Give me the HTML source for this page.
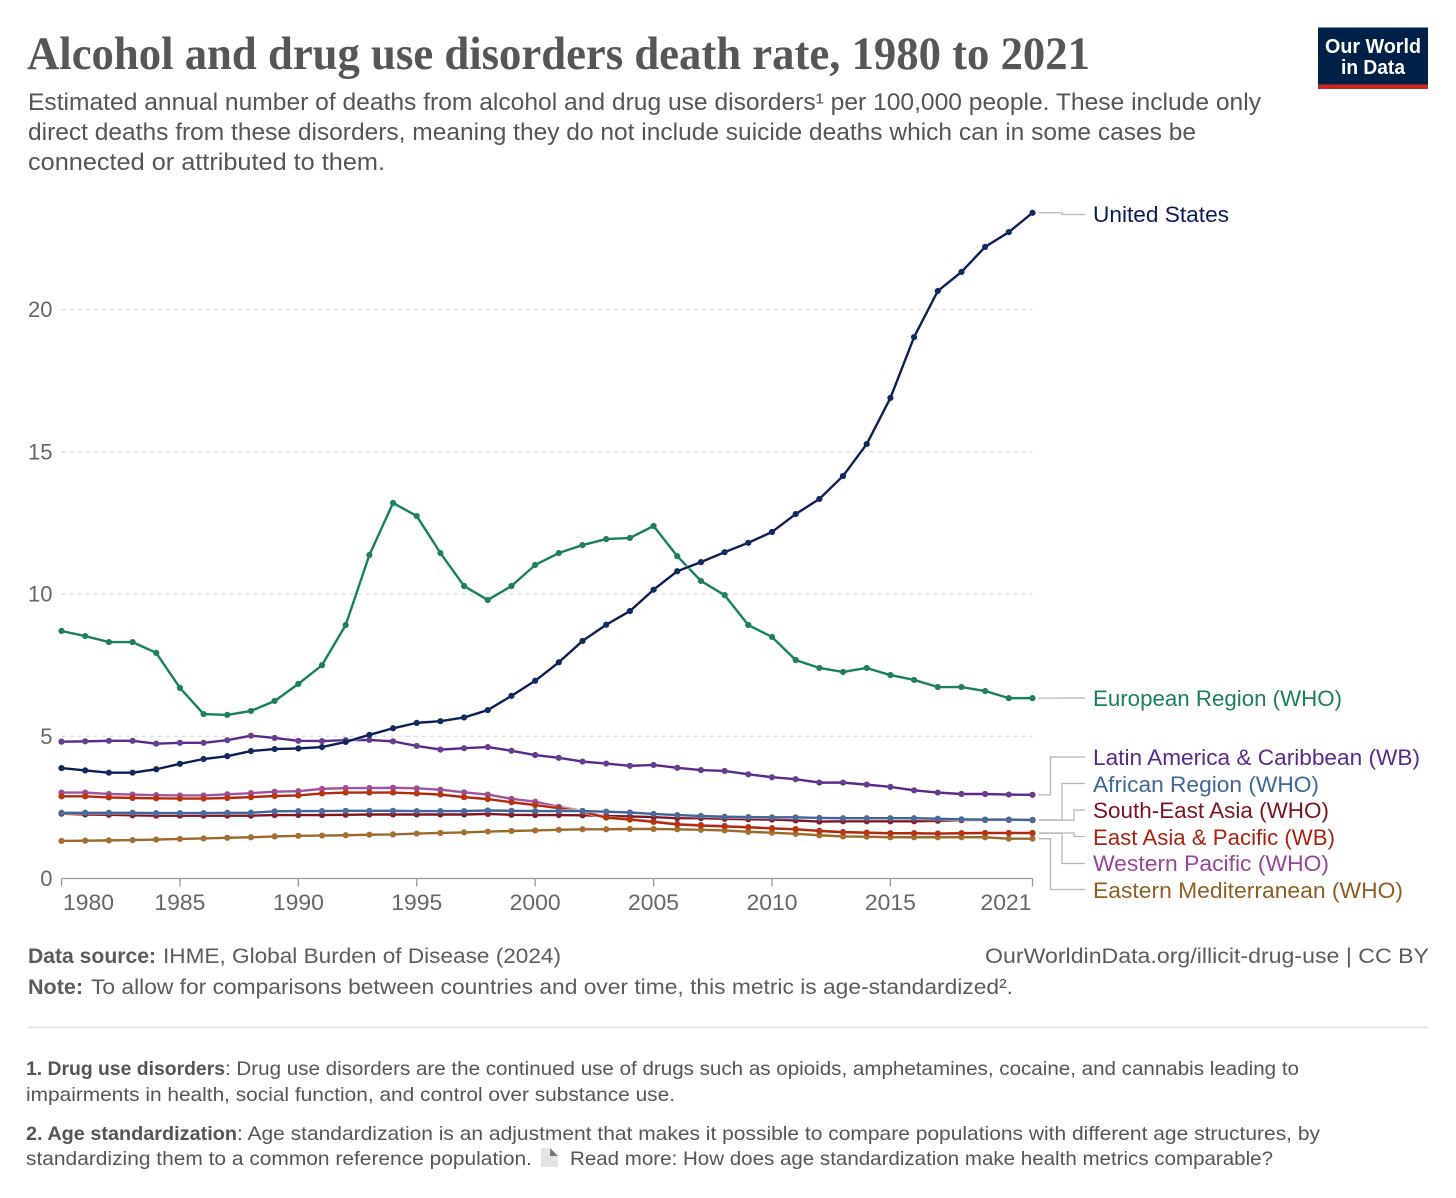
<!DOCTYPE html>
<html lang="en">
<head>
<meta charset="utf-8">
<title>Alcohol and drug use disorders death rate, 1980 to 2021</title>
<style>
html,body{margin:0;padding:0;background:#fff;}
svg{display:block;}
text{font-family:"Liberation Sans",sans-serif;}
.title{font-family:"Liberation Serif",serif;font-weight:700;font-size:47px;fill:#565656;}
.sub{font-size:24px;fill:#555;}
.foot{font-size:21.5px;fill:#5b5b5b;}
.b{font-weight:700;}
.note{font-size:19.5px;fill:#555;}
.tick{font-size:22px;fill:#666;}
.lab{font-size:22px;}
</style>
</head>
<body>
<svg id="chart" xmlns="http://www.w3.org/2000/svg" width="1456" height="1198" viewBox="0 0 1456 1198">
  <rect x="0" y="0" width="1456" height="1198" fill="#fff"/>
  <text class="title" x="27" y="69" textLength="1063" lengthAdjust="spacingAndGlyphs">Alcohol and drug use disorders death rate, 1980 to 2021</text>
  <text class="sub" x="28" y="110" textLength="1233" lengthAdjust="spacingAndGlyphs">Estimated annual number of deaths from alcohol and drug use disorders¹ per 100,000 people. These include only</text>
  <text class="sub" x="28" y="140" textLength="1168" lengthAdjust="spacingAndGlyphs">direct deaths from these disorders, meaning they do not include suicide deaths which can in some cases be</text>
  <text class="sub" x="28" y="170" textLength="357" lengthAdjust="spacingAndGlyphs">connected or attributed to them.</text>

  <g>
    <rect x="1318" y="27.5" width="110" height="61.5" fill="#002147"/>
    <rect x="1318" y="84.5" width="110" height="4.5" fill="#ce261e"/>
    <text x="1325" y="53" font-size="20" font-weight="700" fill="#fff" textLength="96" lengthAdjust="spacingAndGlyphs">Our World</text>
    <text x="1341" y="74" font-size="20" font-weight="700" fill="#fff" textLength="64" lengthAdjust="spacingAndGlyphs">in Data</text>
  </g>

  <g id="grid"></g>
  <g id="axes"></g>
  <g id="connectors"></g>
  <g id="series"></g>

  <g>
    <text class="lab" x="1093" y="222" fill="#0b1a53" textLength="136" lengthAdjust="spacingAndGlyphs">United States</text>
    <text class="lab" x="1093" y="706" fill="#18805f" textLength="249" lengthAdjust="spacingAndGlyphs">European Region (WHO)</text>
    <text class="lab" x="1093" y="765" fill="#5b2a86" textLength="327" lengthAdjust="spacingAndGlyphs">Latin America &amp; Caribbean (WB)</text>
    <text class="lab" x="1093" y="792" fill="#3f6699" textLength="226" lengthAdjust="spacingAndGlyphs">African Region (WHO)</text>
    <text class="lab" x="1093" y="818" fill="#7a1420" textLength="236" lengthAdjust="spacingAndGlyphs">South-East Asia (WHO)</text>
    <text class="lab" x="1093" y="845" fill="#a82410" textLength="242" lengthAdjust="spacingAndGlyphs">East Asia &amp; Pacific (WB)</text>
    <text class="lab" x="1093" y="871" fill="#95459b" textLength="236" lengthAdjust="spacingAndGlyphs">Western Pacific (WHO)</text>
    <text class="lab" x="1093" y="898" fill="#8f5e22" textLength="310" lengthAdjust="spacingAndGlyphs">Eastern Mediterranean (WHO)</text>
  </g>

  <g>
    <text class="foot b" x="28" y="963" textLength="128" lengthAdjust="spacingAndGlyphs">Data source:</text>
    <text class="foot" x="163" y="963" textLength="398" lengthAdjust="spacingAndGlyphs">IHME, Global Burden of Disease (2024)</text>
    <text class="foot" x="985" y="963" textLength="444" lengthAdjust="spacingAndGlyphs">OurWorldinData.org/illicit-drug-use | CC BY</text>
    <text class="foot b" x="28" y="994" textLength="55" lengthAdjust="spacingAndGlyphs">Note:</text>
    <text class="foot" x="91" y="994" textLength="922" lengthAdjust="spacingAndGlyphs">To allow for comparisons between countries and over time, this metric is age-standardized².</text>
    <line x1="27" y1="1027.5" x2="1429" y2="1027.5" stroke="#e2e2e2" stroke-width="1.5"/>
    <text class="note b" x="26" y="1075" textLength="199" lengthAdjust="spacingAndGlyphs">1. Drug use disorders</text>
    <text class="note" x="225" y="1075" textLength="1074" lengthAdjust="spacingAndGlyphs">: Drug use disorders are the continued use of drugs such as opioids, amphetamines, cocaine, and cannabis leading to</text>
    <text class="note" x="26" y="1101" textLength="649" lengthAdjust="spacingAndGlyphs">impairments in health, social function, and control over substance use.</text>
    <text class="note b" x="26" y="1140" textLength="211" lengthAdjust="spacingAndGlyphs">2. Age standardization</text>
    <text class="note" x="237" y="1140" textLength="1083" lengthAdjust="spacingAndGlyphs">: Age standardization is an adjustment that makes it possible to compare populations with different age structures, by</text>
    <text class="note" x="26" y="1165" textLength="506" lengthAdjust="spacingAndGlyphs">standardizing them to a common reference population.</text>
    <g>
      <path d="M541 1148 H550 L558 1156 V1167 H541 Z" fill="#e4e4e4"/>
      <path d="M550 1148 L558 1156 H550 Z" fill="#777"/>
    </g>
    <text class="note" x="570" y="1165" textLength="703" lengthAdjust="spacingAndGlyphs">Read more: How does age standardization make health metrics comparable?</text>
  </g>
</svg>
<script>
const years = [1980,1981,1982,1983,1984,1985,1986,1987,1988,1989,1990,1991,1992,1993,1994,1995,1996,1997,1998,1999,2000,2001,2002,2003,2004,2005,2006,2007,2008,2009,2010,2011,2012,2013,2014,2015,2016,2017,2018,2019,2020,2021];
const yTicks = [0,5,10,15,20];
const xTicks = [1980,1985,1990,1995,2000,2005,2010,2015,2021];

const unitedStates = [3.88,3.8,3.72,3.72,3.84,4.03,4.2,4.3,4.48,4.55,4.57,4.62,4.8,5.05,5.28,5.47,5.53,5.66,5.92,6.42,6.95,7.6,8.35,8.92,9.4,10.15,10.8,11.12,11.47,11.8,12.18,12.81,13.34,14.15,15.27,16.89,19.03,20.65,21.32,22.2,22.72,23.4];
const europeanRegion = [8.7,8.52,8.31,8.31,7.93,6.7,5.78,5.75,5.89,6.24,6.84,7.5,8.91,11.37,13.2,12.74,11.44,10.28,9.79,10.28,11.02,11.44,11.72,11.93,11.97,12.39,11.33,10.46,9.96,8.91,8.49,7.68,7.4,7.26,7.4,7.15,6.98,6.73,6.73,6.59,6.34,6.34];
const latinAmerica = [4.81,4.82,4.84,4.84,4.74,4.77,4.77,4.86,5.02,4.94,4.84,4.83,4.86,4.87,4.82,4.66,4.53,4.58,4.62,4.49,4.34,4.24,4.11,4.04,3.96,3.99,3.89,3.81,3.78,3.66,3.56,3.49,3.37,3.37,3.3,3.22,3.1,3.02,2.97,2.97,2.95,2.94];
const africanRegion = [2.31,2.31,2.31,2.31,2.3,2.3,2.3,2.31,2.31,2.36,2.37,2.37,2.38,2.38,2.38,2.37,2.37,2.37,2.39,2.38,2.37,2.37,2.37,2.35,2.32,2.27,2.23,2.2,2.17,2.16,2.15,2.15,2.13,2.12,2.12,2.12,2.12,2.1,2.08,2.07,2.07,2.06];
const southEastAsia = [2.28,2.25,2.24,2.22,2.21,2.21,2.21,2.21,2.21,2.23,2.23,2.23,2.24,2.25,2.25,2.25,2.25,2.25,2.27,2.24,2.23,2.23,2.22,2.2,2.18,2.16,2.12,2.12,2.1,2.08,2.07,2.04,2,2.01,2.01,2.01,2.01,2.03,2.05,2.06,2.06,2.05];
const eastAsiaPacific = [2.89,2.89,2.85,2.83,2.82,2.81,2.81,2.83,2.86,2.9,2.92,2.99,3.02,3.02,3.02,2.99,2.95,2.86,2.79,2.68,2.58,2.47,2.35,2.14,2.07,1.99,1.9,1.86,1.83,1.8,1.76,1.73,1.67,1.63,1.61,1.59,1.59,1.58,1.59,1.6,1.6,1.6];
const westernPacific = [3.02,3.02,2.97,2.95,2.93,2.92,2.92,2.96,3,3.05,3.07,3.15,3.18,3.18,3.19,3.17,3.12,3.03,2.95,2.8,2.7,2.52,2.38,2.17,2.09,2.01,1.92,1.88,1.85,1.81,1.77,1.74,1.68,1.63,1.61,1.59,1.59,1.58,1.59,1.59,1.59,1.59];
const easternMediterranean = [1.32,1.33,1.34,1.35,1.37,1.39,1.41,1.43,1.45,1.48,1.5,1.51,1.52,1.54,1.55,1.58,1.6,1.62,1.65,1.67,1.69,1.71,1.73,1.73,1.74,1.74,1.73,1.71,1.69,1.64,1.61,1.57,1.52,1.48,1.47,1.45,1.45,1.45,1.45,1.45,1.4,1.4];

const NS = 'http://www.w3.org/2000/svg';
const plotLeft = 61.5, plotRight = 1032.5, plotZero = 878.5, unitPx = 28.45;
function xScale(year) {
  return plotLeft + (year - years[0]) * (plotRight - plotLeft) / (years[years.length - 1] - years[0]);
}
function yScale(value) {
  return plotZero - value * unitPx;
}
function make(tag, attrs, parent) {
  const el = document.createElementNS(NS, tag);
  for (const k in attrs) el.setAttribute(k, attrs[k]);
  parent.appendChild(el);
  return el;
}

const gridG = document.getElementById('grid');
const axesG = document.getElementById('axes');
yTicks.forEach(function (t) {
  if (t !== 0) {
    const g = make('line', {x1: plotLeft, x2: plotRight, y1: yScale(t), y2: yScale(t), stroke: '#dadada', 'stroke-width': 1.3, 'stroke-dasharray': '4 4'}, gridG);
    
    
  }
  const lbl = make('text', {class: 'tick', x: 52.5, y: yScale(t) + 7.5, 'text-anchor': 'end'}, axesG);
  lbl.textContent = String(t);
  
  
});

const axisLine = make('line', {x1: plotLeft, x2: plotRight, y1: plotZero, y2: plotZero, stroke: '#999', 'stroke-width': 1.3}, axesG);



xTicks.forEach(function (t, i) {
  const px = xScale(t);
  const tk = make('line', {x1: px, x2: px, y1: plotZero, y2: plotZero + 8, stroke: '#999', 'stroke-width': 1.3}, axesG);
  
  
  let start = px - 25.5;
  if (i === 0) start = px + 1.5;
  if (i === xTicks.length - 1) start = px - 52;
  const lbl = make('text', {class: 'tick', x: start, y: 910, textLength: 51, lengthAdjust: 'spacingAndGlyphs'}, axesG);
  lbl.textContent = String(t);
  
  
});

const connG = document.getElementById('connectors');
function connector(lastValue, elbowX, labelY, name) {
  const y0 = yScale(lastValue);
  const d = 'M1039 ' + y0 + ' H' + elbowX + ' V' + labelY + ' H1085';
  const c = make('path', {d: d, fill: 'none', stroke: '#b5b5b5', 'stroke-width': 1.3}, connG);
  
  
}
connector(unitedStates[41], 1062, 214.5, 'connector-united-states');
connector(europeanRegion[41], 1062, 698, 'connector-european-region');
connector(latinAmerica[41], 1050.5, 757, 'connector-latin-america');
connector(africanRegion[41], 1062, 783.5, 'connector-african-region');
connector(southEastAsia[41], 1074, 810, 'connector-south-east-asia');
connector(eastAsiaPacific[41], 1074, 836.5, 'connector-east-asia-pacific');
connector(westernPacific[41], 1062, 863.5, 'connector-western-pacific');
connector(easternMediterranean[41], 1050.5, 889.5, 'connector-eastern-mediterranean');

const seriesG = document.getElementById('series');
function drawSeries(values, color, dotColor, name) {
  const g = make('g', {}, seriesG);
  
  
  const pts = values.map(function (v, i) { return xScale(years[i]).toFixed(2) + ',' + yScale(v).toFixed(2); }).join(' ');
  const halo = make('polyline', {points: pts, fill: 'none', stroke: '#fff', 'stroke-width': 3.8, 'stroke-opacity': 0.6, 'stroke-linejoin': 'round'}, g);
  
  
  const line = make('polyline', {points: pts, fill: 'none', stroke: color, 'stroke-width': 2.4, 'stroke-linejoin': 'round'}, g);
  
  
  values.forEach(function (v, i) {
    const dot = make('circle', {cx: xScale(years[i]).toFixed(2), cy: yScale(v).toFixed(2), r: 3.1, fill: dotColor}, g);
    
    
  });
}
drawSeries(westernPacific, '#a2559c', '#9c4f97', 'series-western-pacific');
drawSeries(easternMediterranean, '#9a6a2c', '#a3702f', 'series-eastern-mediterranean');
drawSeries(southEastAsia, '#7f1522', '#83202c', 'series-south-east-asia');
drawSeries(eastAsiaPacific, '#b22a0e', '#b8350f', 'series-east-asia-pacific');
drawSeries(africanRegion, '#3f6699', '#4c6a9c', 'series-african-region');
drawSeries(latinAmerica, '#5b2a86', '#6a3c90', 'series-latin-america');
drawSeries(europeanRegion, '#18805f', '#1f7f5e', 'series-european-region');
drawSeries(unitedStates, '#0b1f57', '#0f2a5f', 'series-united-states');
</script>
</body>
</html>
